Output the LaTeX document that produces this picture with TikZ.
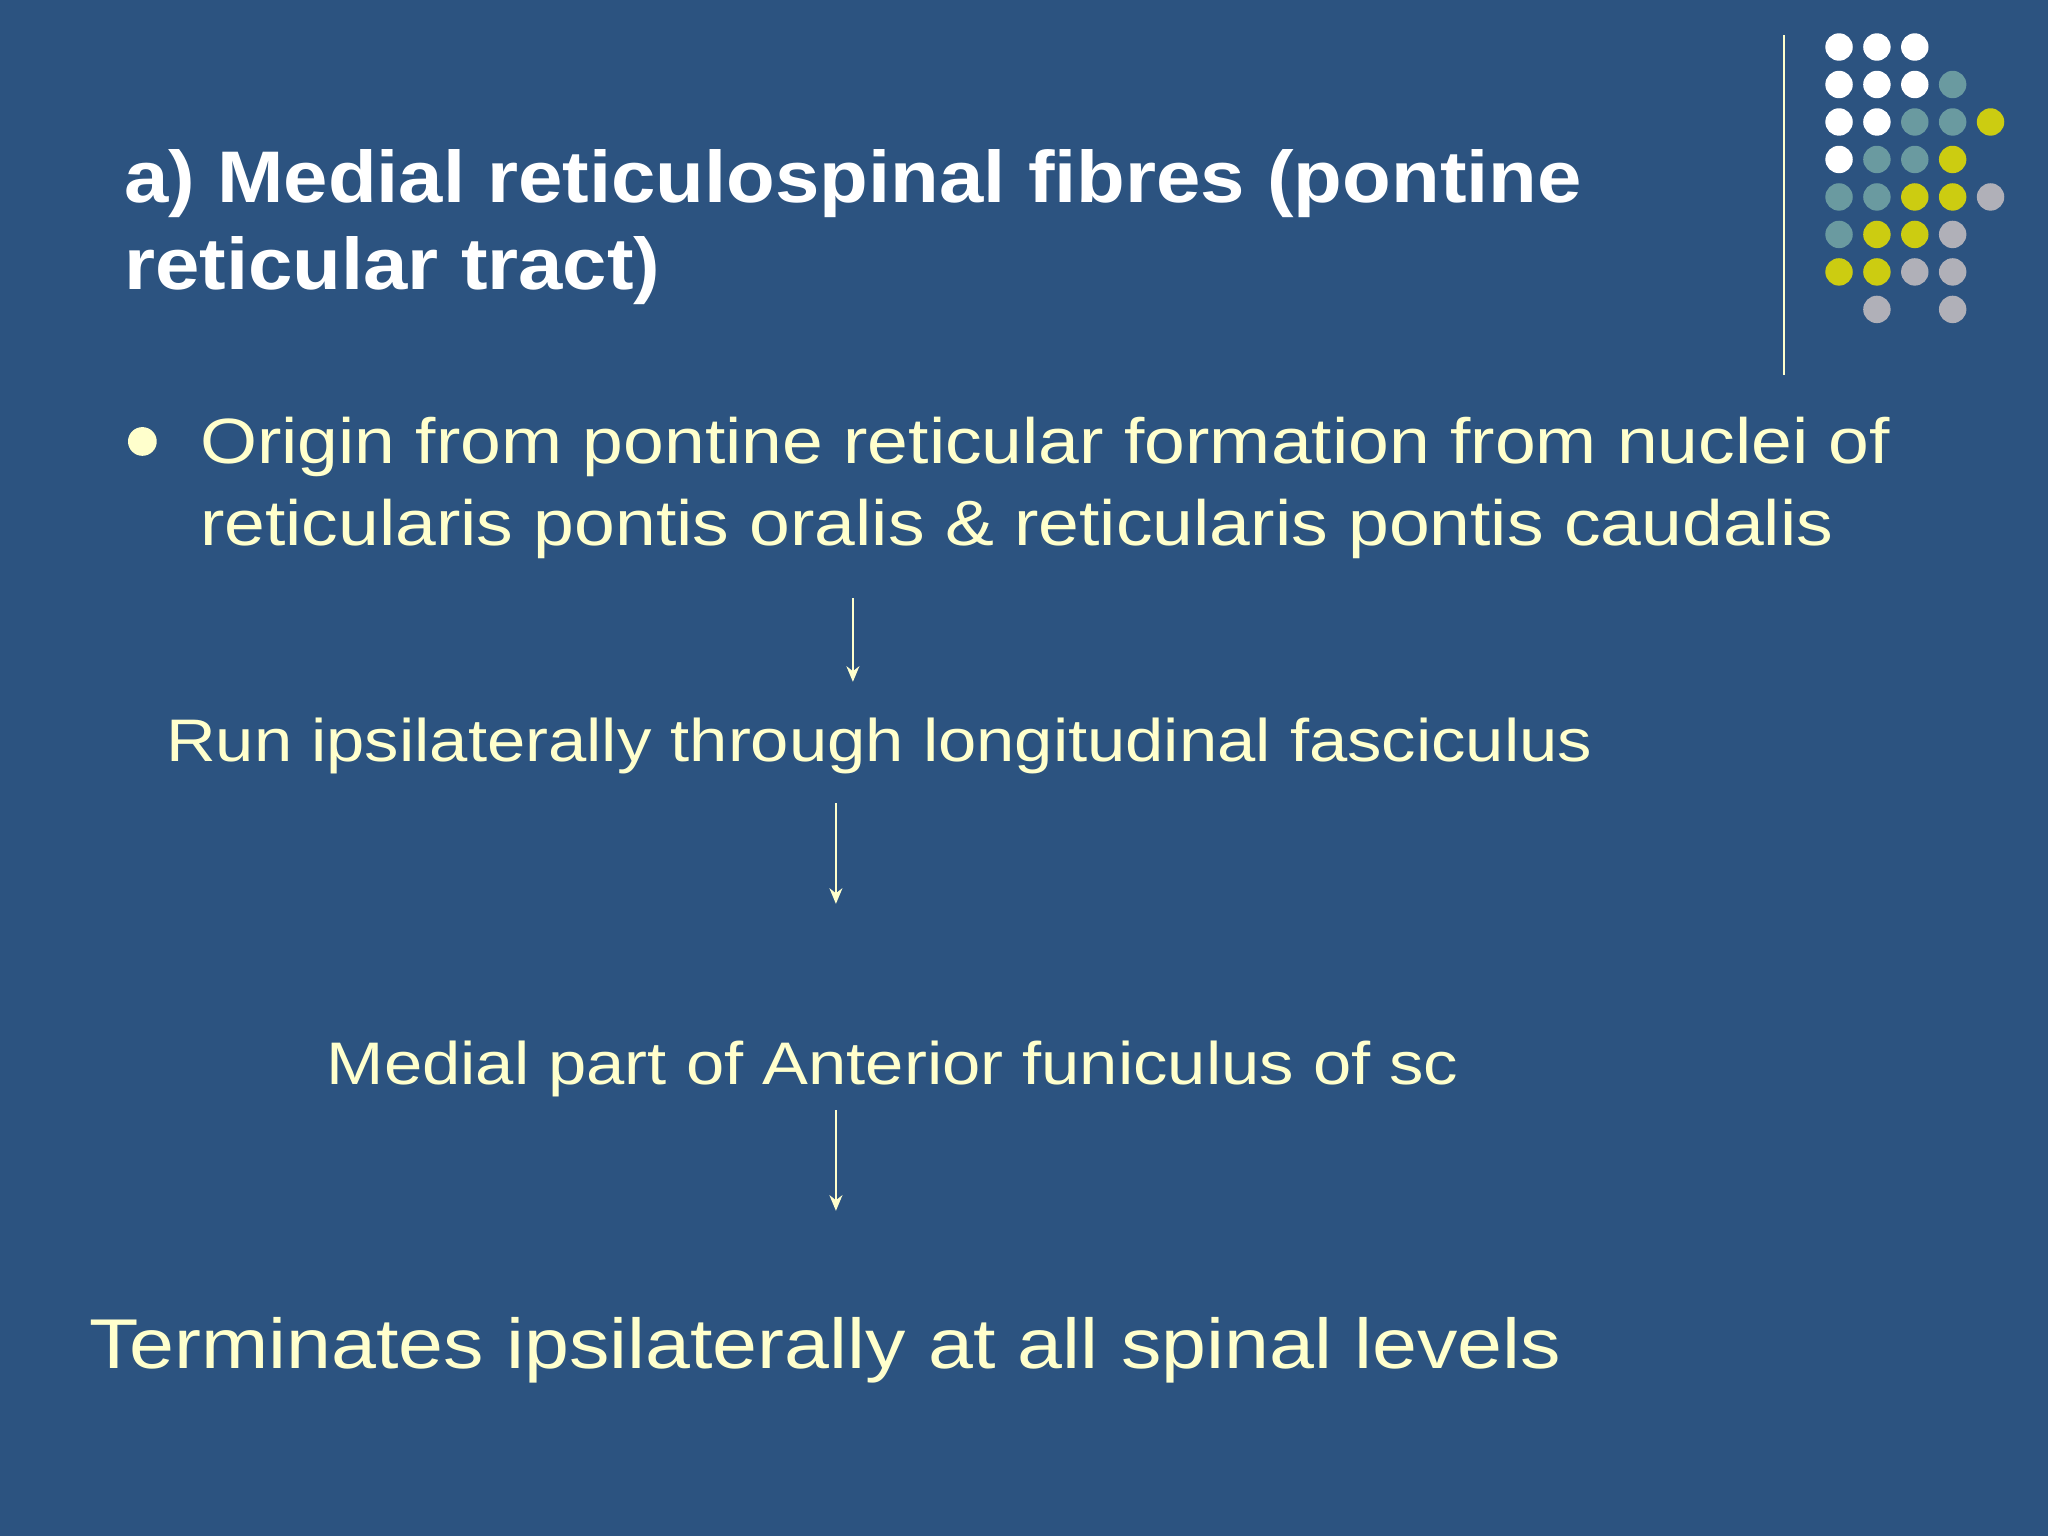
\documentclass[tikz,border=0pt]{standalone}
\usepackage{fontspec}
\setmainfont{Liberation Sans}
\newfontfamily\bodyf[FakeStretch=1.145]{Liberation Sans}
\newfontfamily\titlef[FakeStretch=1.09]{Liberation Sans}
\usetikzlibrary{arrows.meta}
\definecolor{bg}{HTML}{2C5380}
\definecolor{txt}{HTML}{FFFFCC}
\definecolor{dw}{HTML}{FFFFFF}
\definecolor{dt}{HTML}{6A9AA0}
\definecolor{dy}{HTML}{CCCC11}
\definecolor{dg}{HTML}{B0B0B8}
\begin{document}
\begin{tikzpicture}[x=1pt,y=1pt,
  t/.style={anchor=base west,inner sep=0pt,text=txt},
  arr/.style={draw=txt,line width=1.2pt,-{Stealth[length=12pt,width=10pt]}}]
\fill[bg] (0,0) rectangle (1568,1176);
\useasboundingbox (0,0) rectangle (1568,1176);
\node[t,text=white,font=\titlef\fontsize{56}{67}\selectfont\bfseries] (title) at (95,1021) {a) Medial reticulospinal fibres (pontine};
\node[t,text=white,font=\titlef\fontsize{56}{67}\selectfont\bfseries] (title2) at (95,954) {reticular tract)};
\draw[txt,line width=1.2pt] (1366,1149) -- (1366,889);
\def\dot#1#2#3{\fill[#3] (1408+#1*29,1140-#2*28.7) circle (10.5);}
\dot00{dw}\dot10{dw}\dot20{dw}
\dot01{dw}\dot11{dw}\dot21{dw}\dot31{dt}
\dot02{dw}\dot12{dw}\dot22{dt}\dot32{dt}\dot42{dy}
\dot03{dw}\dot13{dt}\dot23{dt}\dot33{dy}
\dot04{dt}\dot14{dt}\dot24{dy}\dot34{dy}\dot44{dg}
\dot05{dt}\dot15{dy}\dot25{dy}\dot35{dg}
\dot06{dy}\dot16{dy}\dot26{dg}\dot36{dg}
\dot17{dg}\dot37{dg}
\fill[txt] (109,838) circle (11);
\node[t,font=\bodyf\fontsize{49}{63}\selectfont] (o1) at (153,821) {Origin from pontine reticular formation from nuclei of};
\node[t,font=\bodyf\fontsize{49}{63}\selectfont] (o2) at (153,758) {reticularis pontis oralis \& reticularis pontis caudalis};
\node[t,font=\bodyf\fontsize{46}{55}\selectfont] (run) at (127,593) {Run ipsilaterally through longitudinal fasciculus};
\node[t,font=\bodyf\fontsize{46}{55}\selectfont] (med) at (250,346) {Medial part of Anterior funiculus of sc};
\node[t,font=\bodyf\fontsize{54}{65}\selectfont] (term) at (68,128) {Terminates ipsilaterally at all spinal levels};
\coordinate (a1) at (653,718); \coordinate (b1) at (653,654);
\coordinate (a2) at (640,561); \coordinate (b2) at (640,484);
\coordinate (a3) at (640,326); \coordinate (b3) at (640,249);
\draw[arr] (a1) -- (b1);
\draw[arr] (a2) -- (b2);
\draw[arr] (a3) -- (b3);
\end{tikzpicture}
\end{document}
